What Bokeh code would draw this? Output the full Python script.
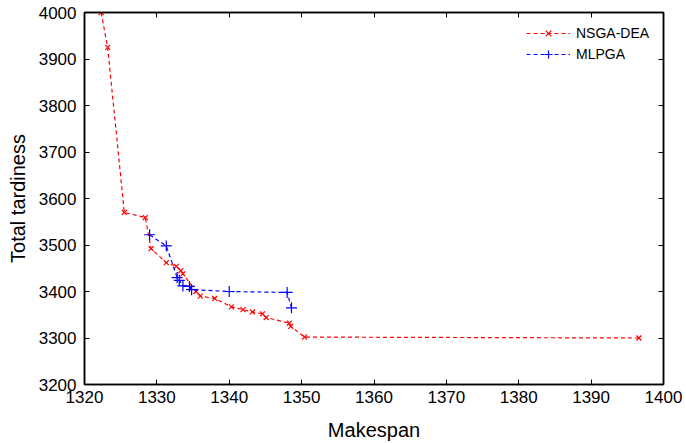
from bokeh.plotting import figure
from bokeh.models import Range1d, FixedTicker, Legend, LegendItem, LinearAxis
from bokeh.embed import file_html
from bokeh.resources import INLINE

# NSGA-DEA front
nsga_x = [1322.3, 1323.2, 1325.5, 1328.4, 1329.2, 1331.3, 1332.7, 1333.3, 1333.6,
          1335.4, 1336.0, 1338.0, 1340.3, 1341.9, 1343.2, 1344.6, 1345.1, 1348.3,
          1348.5, 1350.4, 1396.6]
nsga_y = [4000, 3925, 3570, 3559, 3492, 3462, 3454, 3445, 3438,
          3400, 3390, 3385, 3367, 3361, 3356, 3352, 3344, 3332,
          3325, 3302, 3300]

# MLPGA front
mlpga_x = [1329.0, 1331.3, 1332.8, 1333.1, 1333.6, 1334.5, 1334.8, 1340.0, 1348.0, 1348.6]
mlpga_y = [3522, 3498, 3430, 3424, 3412, 3411, 3404, 3400, 3398, 3365]

x_ticks = [1320, 1330, 1340, 1350, 1360, 1370, 1380, 1390, 1400]
y_ticks = [3200, 3300, 3400, 3500, 3600, 3700, 3800, 3900, 4000]
x_min, x_max = 1320, 1400
y_min, y_max = 3200, 4000

FONT = "Liberation Sans"

p = figure(width=686, height=443, output_backend="svg", toolbar_location=None,
           x_range=Range1d(x_min, x_max), y_range=Range1d(y_min, y_max),
           min_border_left=84, min_border_right=23, min_border_top=12,
           min_border_bottom=59)
p.grid.visible = False
p.outline_line_color = "black"
p.outline_line_width = 1.5
p.background_fill_color = "white"
p.border_fill_color = "white"

def style_axis(ax, ticks, labels=True):
    ax.ticker = FixedTicker(ticks=ticks)
    ax.major_tick_in = 5
    ax.major_tick_out = 0
    ax.minor_tick_line_color = None
    ax.axis_line_color = "black"
    ax.axis_line_width = 1.5
    ax.major_tick_line_color = "black"
    ax.major_tick_line_width = 1
    if labels:
        ax.major_label_text_font = FONT
        ax.major_label_text_font_size = "17px"
        ax.major_label_text_color = "black"
        ax.axis_label_text_font = FONT
        ax.axis_label_text_font_size = "20px"
        ax.axis_label_text_font_style = "normal"
        ax.axis_label_text_color = "black"
    else:
        # mirrored tick marks only: labels are not drawn at all
        ax.major_label_text_color = None
        ax.major_label_text_font_size = "0px"
        ax.major_label_standoff = 0

xa = p.xaxis[0]
style_axis(xa, x_ticks)
xa.axis_label = "Makespan"
xa.major_label_standoff = 6
xa.axis_label_standoff = 13

ya = p.yaxis[0]
style_axis(ya, y_ticks)
ya.axis_label = "Total tardiness"
ya.major_label_standoff = 8
ya.axis_label_standoff = 7

top = LinearAxis()
style_axis(top, x_ticks, labels=False)
p.add_layout(top, "above")
right = LinearAxis()
style_axis(right, y_ticks, labels=False)
p.add_layout(right, "right")

RED = "#ff0000"
BLUE = "#0000ff"
l1 = p.line(nsga_x, nsga_y, line_color=RED, line_width=1.2, line_dash="4 3")
s1 = p.scatter(nsga_x, nsga_y, marker="x", size=7, line_color=RED, line_width=1.2)
l2 = p.line(mlpga_x, mlpga_y, line_color=BLUE, line_width=1.2, line_dash="4 3")
s2 = p.scatter(mlpga_x, mlpga_y, marker="cross", size=11, line_color=BLUE, line_width=1.2)

legend = Legend(items=[LegendItem(label="NSGA-DEA", renderers=[l1, s1]),
                       LegendItem(label="MLPGA", renderers=[l2, s2])],
                location=(442, 320), border_line_color=None, background_fill_alpha=0,
                glyph_width=44, glyph_height=20, label_height=20, spacing=1,
                padding=0, margin=0, label_standoff=6,
                label_text_font=FONT, label_text_font_size="14px",
                label_text_color="black")
p.add_layout(legend)

open("out.html", "w").write(file_html(p, INLINE))
